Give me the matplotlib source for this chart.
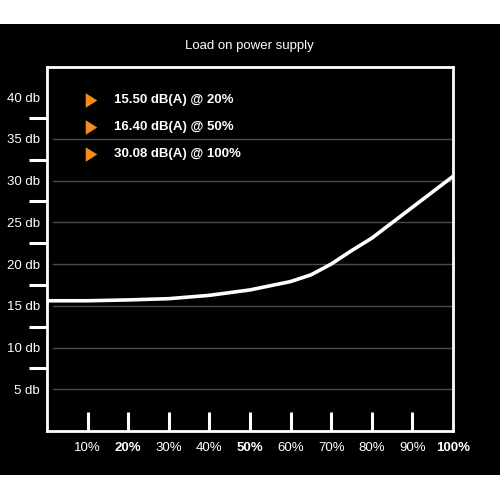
import matplotlib
matplotlib.use("Agg")
import matplotlib.pyplot as plt
from matplotlib.patches import Rectangle
from matplotlib.path import Path

# data
load_pct = [0, 10, 20, 30, 40, 50, 55, 60, 65, 70, 75, 80, 90, 100]
noise_db = [15.6, 15.6, 15.7, 15.85, 16.25, 16.9, 17.4, 17.9, 18.7, 20.0, 21.6, 23.1, 26.8, 30.5]

x_ticks = [10, 20, 30, 40, 50, 60, 70, 80, 90, 100]
x_labels = ["10%", "20%", "30%", "40%", "50%", "60%", "70%", "80%", "90%", "100%"]
x_bold = ["20%", "50%", "100%"]

y_ticks = [5, 10, 15, 20, 25, 30, 35, 40]
y_labels = ["5 db", "10 db", "15 db", "20 db", "25 db", "30 db", "35 db", "40 db"]
y_grid = [5, 10, 15, 20, 25, 30, 35]
y_minor = [7.5, 12.5, 17.5, 22.5, 27.5, 32.5, 37.5]

note_values = [15.50, 16.40, 30.08]
note_loads = [20, 50, 100]

title = "Load on power supply"

plt.rcParams["font.family"] = ["Liberation Sans", "DejaVu Sans"]

fig = plt.figure(figsize=(5, 5), dpi=100, facecolor="white")
fig.patches.append(Rectangle((0, 0.05), 1, 0.902, transform=fig.transFigure,
                             facecolor="black", edgecolor="none", zorder=-10))

ax = fig.add_axes([0.094, 0.138, 0.812, 0.728])
ax.set_facecolor("black")
ax.set_xlim(0, 100)
ax.set_ylim(0, 43.6)

for s in ax.spines.values():
    s.set_color("white")
    s.set_linewidth(2)

# faint horizontal grid
for g in y_grid:
    ax.axhline(g, xmin=0.015, xmax=1, color="#4a4a4a", lw=1, zorder=1)

ax.plot(load_pct, noise_db, color="white", lw=2.6, solid_joinstyle="round", zorder=3)

# x axis: inward ticks, some labels bold
ax.set_xticks(x_ticks)
ax.set_xticklabels(x_labels)
ax.tick_params(axis="x", direction="in", length=14, width=2.2, color="white",
               labelcolor="white", labelsize=9.5, pad=8)
for lbl in ax.get_xticklabels():
    if lbl.get_text() in x_bold:
        lbl.set_fontweight("bold")
# no tick line at the right edge
ax.xaxis.get_major_ticks()[-1].tick1line.set_visible(False)

# y axis: labels without ticks, short white marks between them
ax.set_yticks(y_ticks)
ax.set_yticklabels(y_labels)
ax.set_yticks(y_minor, minor=True)
ax.tick_params(axis="y", which="major", length=0, labelcolor="white",
               labelsize=9.5, pad=5)
ax.tick_params(axis="y", which="minor", direction="out", length=13, width=2.2,
               color="white")

# legend-like notes with orange bullets
tri = Path([(-0.79, -1), (0.79, 0), (-0.79, 1), (-0.79, -1)],
           [Path.MOVETO, Path.LINETO, Path.LINETO, Path.CLOSEPOLY])
note_y = [39.6, 36.4, 33.2]
for v, p, ny in zip(note_values, note_loads, note_y):
    ax.plot([10.9], [ny], marker=tri, markersize=10.5, color="#f28c1c",
            markeredgewidth=0, zorder=4)
    ax.text(16.4, ny, f"{v:.2f} dB(A) @ {p}%", color="white", fontsize=9.5,
            fontweight="bold", va="center", ha="left", zorder=4)

fig.text(0.498, 0.908, title, color="white", fontsize=9.5, ha="center", va="center")

fig.savefig("out.png", dpi=100, facecolor=fig.get_facecolor())
